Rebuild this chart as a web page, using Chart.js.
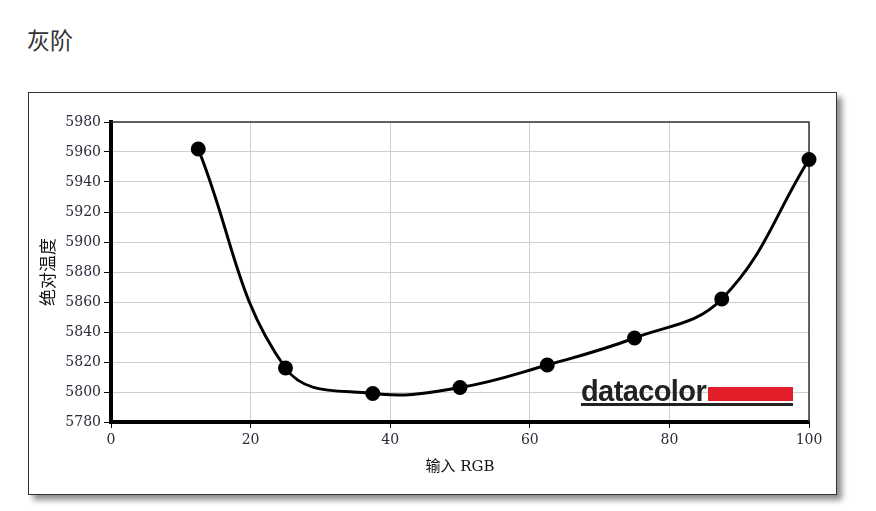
<!DOCTYPE html>
<html>
<head>
<meta charset="utf-8">
<script src="https://cdn.jsdelivr.net/npm/chart.js@4/dist/chart.umd.min.js"></script>
<style>
  body { margin: 0; background: #fff; width: 876px; height: 511px; position: relative; overflow: hidden; }
  #title { position: absolute; left: 27px; top: 22px; font-family: "Noto Sans CJK SC", sans-serif; font-size: 23px; color: #333; }
  #box { position: absolute; left: 28px; top: 92px; width: 807px; height: 401px; border: 1px solid #333; background: #fff;
         box-shadow: 5px 5px 6px rgba(0,0,0,0.45); }
  canvas { display: block; }
</style>
</head>
<body>
<div id="title">灰阶</div>
<div id="box"><canvas id="gray" width="807" height="401"></canvas></div>
<script>
  // grey ramp measurement: input RGB vs colour temperature
  const inputRgb = [12.5, 25, 37.5, 50, 62.5, 75, 87.5, 100];
  const temperature = [5962, 5816, 5799, 5803, 5818, 5836, 5862, 5955];
  const xTicks = [0, 20, 40, 60, 80, 100];
  const yTicks = [5780, 5800, 5820, 5840, 5860, 5880, 5900, 5920, 5940, 5960, 5980];

  const tickFont = { family: '"DejaVu Serif", serif', size: 14 };

  // thin frame on top/right plus the datacolor mark
  const framePlugin = {
    id: 'frame',
    beforeDatasetsDraw: function (chart) {
      const ctx = chart.ctx, a = chart.chartArea;
      ctx.save();
      ctx.strokeStyle = '#333';
      ctx.lineWidth = 1.5;
      ctx.beginPath();
      ctx.moveTo(a.left, a.top);
      ctx.lineTo(a.right, a.top);
      ctx.lineTo(a.right, a.bottom);
      ctx.stroke();
      ctx.restore();
    },
    afterDraw: function (chart) {
      const ctx = chart.ctx, a = chart.chartArea;
      const right = a.right - 16;
      const base = a.bottom - 21;
      ctx.save();
      ctx.fillStyle = '#e31e2b';
      ctx.fillRect(right - 85, base - 14, 85, 14);
      ctx.fillStyle = '#222';
      ctx.fillRect(right - 212, base + 2, 212, 3);
      ctx.font = 'bold 29px "Liberation Sans", Arial, sans-serif';
      ctx.letterSpacing = '-0.6px';
      ctx.textBaseline = 'alphabetic';
      ctx.fillText('datacolor', right - 212, base);
      ctx.restore();
    }
  };

  new Chart(document.getElementById('gray'), {
    type: 'line',
    data: {
      datasets: [{
        label: '绝对温度',
        data: inputRgb.map((x, i) => ({ x: x, y: temperature[i] })),
        borderColor: '#000',
        backgroundColor: '#000',
        borderWidth: 3,
        pointRadius: 6,
        pointHoverRadius: 6,
        tension: 0.4,
        clip: false
      }]
    },
    options: {
      responsive: false,
      animation: false,
      layout: { padding: { left: 0, top: 29, right: 27, bottom: 0 } },
      plugins: { legend: { display: false }, tooltip: { enabled: false } },
      scales: {
        x: {
          type: 'linear',
          min: 0,
          max: 100,
          afterFit: function (s) { s.height = 72; },
          afterBuildTicks: function (s) { s.ticks = xTicks.map(v => ({ value: v })); },
          grid: { color: '#cfcfcf', lineWidth: 1, tickColor: '#000', tickLength: 6 },
          border: { display: true, color: '#000', width: 4 },
          ticks: { color: '#2b2b3a', font: tickFont, padding: 4, maxRotation: 0, callback: v => String(v) },
          title: {
            display: true,
            text: '输入 RGB',
            color: '#111',
            font: { family: '"DejaVu Serif", "Noto Sans CJK SC", serif', size: 15 },
            padding: { top: 0, bottom: 18 }
          }
        },
        y: {
          min: 5780,
          max: 5980,
          afterFit: function (s) { s.width = 82; },
          afterBuildTicks: function (s) { s.ticks = yTicks.map(v => ({ value: v })); },
          grid: { color: '#cfcfcf', lineWidth: 1, tickColor: '#000', tickLength: 7 },
          border: { display: true, color: '#000', width: 4 },
          ticks: { color: '#2b2b3a', font: tickFont, padding: 3, callback: v => String(v) },
          title: {
            display: true,
            text: '绝对温度',
            color: '#111',
            font: { family: '"Noto Sans CJK SC", sans-serif', size: 17 },
            padding: { top: 8, bottom: 0 }
          }
        }
      }
    },
    plugins: [framePlugin]
  });
</script>
</body>
</html>
